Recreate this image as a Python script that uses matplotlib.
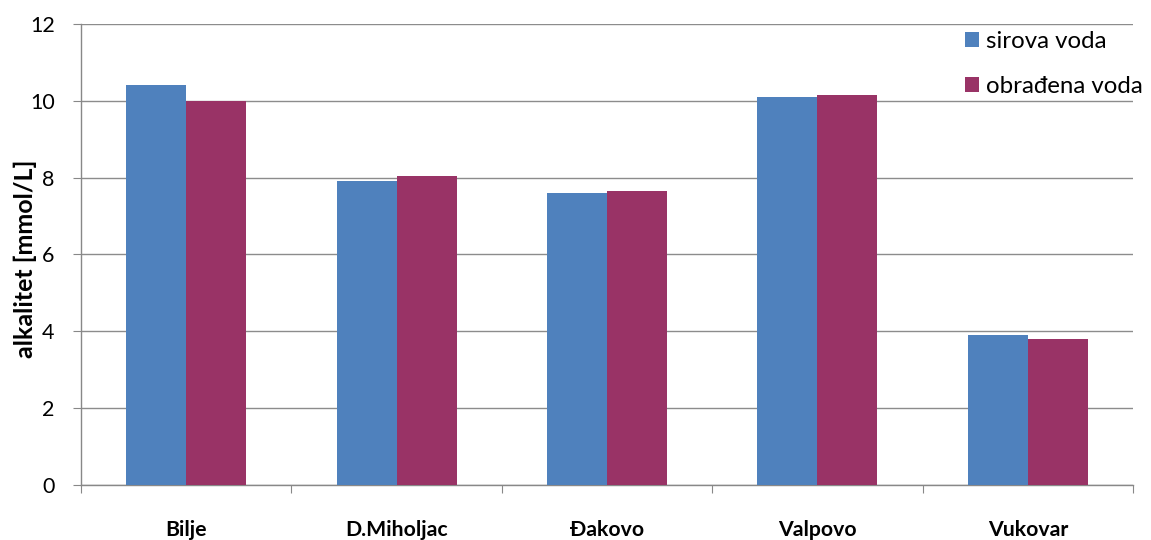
import matplotlib
matplotlib.use("Agg")
import matplotlib.pyplot as plt
import numpy as np

categories = ["Bilje", "D.Miholjac", "Đakovo", "Valpovo", "Vukovar"]
sirova = [10.4, 7.9, 7.6, 10.1, 3.9]
obradena = [10.0, 8.05, 7.65, 10.15, 3.8]
series_names = ["sirova voda", "obrađena voda"]
yticks = [0, 2, 4, 6, 8, 10, 12]

plt.rcParams['font.family'] = ['Lato', 'DejaVu Sans']

fig = plt.figure(figsize=(11.51, 5.4), dpi=100)
ax = fig.add_axes([0.0704, 0.1019, 0.9140, 0.8537])

x = np.arange(len(categories))
w = 0.285
ax.bar(x - w/2, sirova, width=w, color="#4F81BD", label=series_names[0], zorder=3)
ax.bar(x + w/2, obradena, width=w, color="#993366", label=series_names[1], zorder=3)

ax.set_xlim(-0.5, len(categories) - 0.5)
ax.set_ylim(0, 12)
ax.set_yticks(yticks)
ax.set_yticklabels([str(v) for v in yticks], fontsize=15.5)
ax.set_xticks(np.arange(len(categories) + 1) - 0.5)
ax.set_xticklabels([])
ax.set_xticks(x, minor=True)
ax.set_xticklabels(categories, minor=True, fontsize=15.3, fontweight='bold')
ax.tick_params(axis='x', which='minor', length=0, pad=25)
ax.tick_params(axis='x', which='major', length=6, color="#888888", direction='out')
ax.tick_params(axis='y', length=6, color="#888888", direction='out', pad=13)

ax.yaxis.grid(True, color="#8c8c8c", linewidth=1.0, zorder=0)
ax.set_axisbelow(True)
for s in ["top", "right"]:
    ax.spines[s].set_visible(False)
for s in ["left", "bottom"]:
    ax.spines[s].set_color("#888888")
    ax.spines[s].set_linewidth(1.0)

ax.set_ylabel("alkalitet [mmol/L]", fontsize=18, fontweight='bold', va='center')
ax.yaxis.set_label_coords(-0.053, 0.49)

leg = ax.legend(loc="upper left", bbox_to_anchor=(0.840, 0.985), frameon=False,
                fontsize=17.3, handlelength=0.6, handleheight=0.6, handletextpad=0.3,
                labelspacing=1.0, borderpad=0, borderaxespad=0)

fig.savefig("out.png", dpi=100)
